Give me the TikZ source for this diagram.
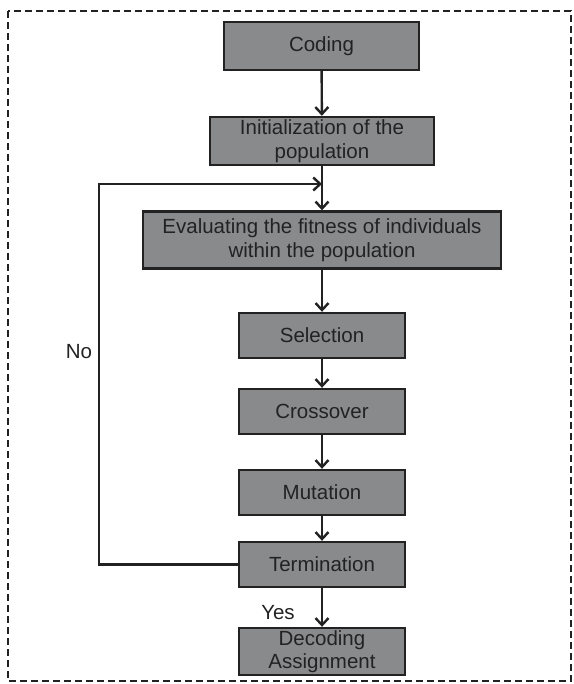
\documentclass[tikz,border=0pt]{standalone}
\usepackage{fontspec}
\setmainfont{Liberation Sans}
\usetikzlibrary{arrows.meta}
\definecolor{boxfill}{HTML}{898A8C}
\definecolor{ink}{HTML}{222222}
\begin{document}
\begin{tikzpicture}[x=1pt,y=-1pt,
  stepbox/.style={draw=ink,line width=2.4pt,fill=boxfill,text=ink,align=center,
    inner sep=0pt,font=\fontsize{20.5}{23.5}\selectfont},
  flow/.style={draw=ink,line width=2.4pt,-{Straight Barb[length=7pt,width=13pt,line width=2.4pt]}},
  lbl/.style={text=ink,font=\fontsize{20.5}{23.5}\selectfont}]
\useasboundingbox (0,0) rectangle (573,684);
\draw[ink,line width=2.4pt,dash pattern=on 7pt off 4pt] (8,11) rectangle (571,681);

\node[stepbox,minimum width=195,minimum height=48] (coding) at (321.5,46) {Coding};
\node[stepbox,minimum width=224,minimum height=48] (init) at (322,141) {Initialization of the\\population};
\node[stepbox,minimum width=358,minimum height=57] (eval) at (322,240) {Evaluating the fitness of individuals\\within the population};
\node[stepbox,minimum width=166,minimum height=45] (sel) at (322,335.5) {Selection};
\node[stepbox,minimum width=166,minimum height=45] (cross) at (322,411.5) {Crossover};
\node[stepbox,minimum width=166,minimum height=45] (mut) at (322,492.5) {Mutation};
\node[stepbox,minimum width=166,minimum height=45] (term) at (322,564.5) {Termination};
\node[stepbox,minimum width=166,minimum height=47] (dec) at (322,651.5) {Decoding\\Assignment};

\coordinate (loopin) at (322,184);

\draw[flow] (coding) -- (init);
\draw[flow] (init) -- (eval);
\draw[flow] (eval) -- (sel);
\draw[flow] (sel) -- (cross);
\draw[flow] (cross) -- (mut);
\draw[flow] (mut) -- (term);
\draw[flow] (term) -- (dec);
\draw[flow] (term.west) -- (99,564.5) -- (99,184) -- (loopin);

\node[lbl] (no) at (79,352) {No};
\node[lbl] (yes) at (278,613) {Yes};
\end{tikzpicture}
\end{document}
